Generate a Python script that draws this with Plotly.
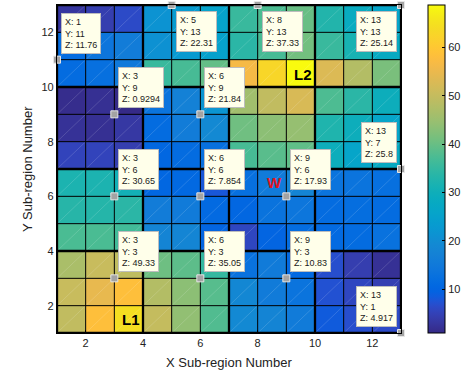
import numpy as np
import plotly.graph_objects as go

# Sub-region grid: 13 x 13 nodes, 12 x 12 faces (face colour = value at its lower-left node)
x_nodes = list(range(1, 14))
y_nodes = list(range(1, 14))

# Face values, one row per Y sub-region (y = 1 ... 12), columns x = 1 ... 12
z_y01 = [49.5, 58.3, 64.5, 50.0, 44.0, 37.9, 19.3, 18.0, 15.5, 8.4, 6.8, 6.3]
z_y02 = [50.5, 54.6, 58.3, 47.8, 43.4, 38.5, 18.8, 15.5, 13.5, 7.2, 5.7, 4.6]
z_y03 = [46.8, 50.5, 49.33, 40.5, 39.0, 35.05, 13.0, 15.5, 10.83, 6.8, 4.3, 2.2]
z_y04 = [37.3, 37.3, 36.5, 18.0, 18.3, 10.0, 5.7, 10.0, 11.8, 11.0, 11.5, 13.0]
z_y05 = [33.5, 33.3, 34.0, 15.8, 15.5, 11.0, 10.4, 13.3, 14.0, 11.5, 12.0, 11.5]
z_y06 = [32.0, 32.0, 30.65, 10.5, 10.8, 7.854, 12.5, 15.5, 17.93, 13.5, 13.5, 12.5]
z_y07 = [5.3, 5.3, 4.3, 10.4, 11.5, 12.5, 37.0, 38.6, 39.3, 29.5, 26.0, 28.0]
z_y08 = [2.3, 2.0, 3.3, 11.5, 15.8, 19.3, 40.7, 43.4, 44.5, 32.5, 29.5, 26.0]
z_y09 = [1.5, 2.0, 0.9294, 13.5, 17.0, 21.84, 45.7, 49.5, 52.5, 37.6, 34.0, 29.5]
z_y10 = [11.5, 12.5, 15.0, 35.5, 37.0, 39.6, 56.6, 63.0, 68.8, 53.0, 47.8, 41.7]
z_y11 = [11.76, 13.8, 15.8, 21.0, 23.0, 25.0, 34.0, 37.0, 41.0, 35.5, 31.5, 28.0]
z_y12 = [3.0, 4.3, 6.3, 21.3, 23.3, 25.4, 35.5, 37.5, 40.0, 32.8, 28.5, 26.0]
z_faces = np.array([z_y01, z_y02, z_y03, z_y04, z_y05, z_y06,
                    z_y07, z_y08, z_y09, z_y10, z_y11, z_y12])

# Data tips (node coordinates); nodes on the top/right border carry their own values
tip_x = [1, 5, 8, 13, 3, 6, 13, 3, 6, 9, 3, 6, 9, 13]
tip_y = [11, 13, 13, 13, 9, 9, 7, 6, 6, 6, 3, 3, 3, 1]
border_node_z = {(5, 13): 22.31, (8, 13): 37.33, (13, 13): 25.14,
                 (13, 7): 25.8, (13, 1): 4.917}

# Region labels
label_text = ["L1", "L2", "W"]
label_x = [3.59, 9.58, 8.59]
label_y = [1.49, 10.45, 6.51]
label_color = ["black", "black", "#e3141c"]

colorbar_ticks = [10, 20, 30, 40, 50, 60]

# parula (64 entries)
parula = [
    (0.2081, 0.1663, 0.5292), (0.2116, 0.1898, 0.5777), (0.2123, 0.2138, 0.6270),
    (0.2081, 0.2386, 0.6771), (0.1959, 0.2645, 0.7279), (0.1707, 0.2919, 0.7792),
    (0.1253, 0.3242, 0.8303), (0.0591, 0.3598, 0.8683), (0.0117, 0.3875, 0.8820),
    (0.0060, 0.4086, 0.8828), (0.0165, 0.4266, 0.8786), (0.0329, 0.4430, 0.8720),
    (0.0498, 0.4586, 0.8641), (0.0629, 0.4737, 0.8554), (0.0723, 0.4887, 0.8467),
    (0.0779, 0.5040, 0.8384), (0.0793, 0.5200, 0.8312), (0.0749, 0.5375, 0.8263),
    (0.0641, 0.5570, 0.8240), (0.0488, 0.5772, 0.8228), (0.0343, 0.5966, 0.8199),
    (0.0265, 0.6137, 0.8135), (0.0239, 0.6287, 0.8038), (0.0231, 0.6418, 0.7913),
    (0.0228, 0.6535, 0.7768), (0.0267, 0.6642, 0.7607), (0.0384, 0.6743, 0.7436),
    (0.0590, 0.6838, 0.7254), (0.0843, 0.6928, 0.7062), (0.1133, 0.7015, 0.6859),
    (0.1453, 0.7098, 0.6646), (0.1801, 0.7177, 0.6424), (0.2178, 0.7250, 0.6193),
    (0.2586, 0.7317, 0.5954), (0.3022, 0.7376, 0.5712), (0.3482, 0.7424, 0.5473),
    (0.3953, 0.7459, 0.5244), (0.4420, 0.7481, 0.5033), (0.4871, 0.7491, 0.4840),
    (0.5300, 0.7491, 0.4661), (0.5709, 0.7485, 0.4494), (0.6099, 0.7473, 0.4337),
    (0.6473, 0.7456, 0.4188), (0.6834, 0.7435, 0.4044), (0.7184, 0.7411, 0.3905),
    (0.7525, 0.7384, 0.3768), (0.7858, 0.7356, 0.3633), (0.8185, 0.7327, 0.3498),
    (0.8507, 0.7299, 0.3360), (0.8824, 0.7274, 0.3217), (0.9139, 0.7258, 0.3063),
    (0.9450, 0.7261, 0.2886), (0.9739, 0.7314, 0.2666), (0.9938, 0.7455, 0.2403),
    (0.9990, 0.7653, 0.2164), (0.9955, 0.7861, 0.1967), (0.9880, 0.8066, 0.1794),
    (0.9789, 0.8271, 0.1633), (0.9697, 0.8481, 0.1475), (0.9626, 0.8705, 0.1309),
    (0.9589, 0.8949, 0.1132), (0.9598, 0.9218, 0.0948), (0.9661, 0.9514, 0.0755),
    (0.9763, 0.9831, 0.0538),
]
colorscale = [[i / (len(parula) - 1),
               "rgb(%d,%d,%d)" % tuple(round(255 * c) for c in rgb)]
              for i, rgb in enumerate(parula)]

FONT = "Liberation Sans, Arial, Helvetica, sans-serif"
W, H = 474, 375
ML, MR, MT, MB = 57, 73, 5, 42
plot_w = W - ML - MR

fig = go.Figure()

fig.add_trace(go.Heatmap(
    z=z_faces, x=x_nodes, y=y_nodes,
    colorscale=colorscale,
    zmin=float(z_faces.min()), zmax=float(z_faces.max()),
    hoverinfo="skip",
    colorbar=dict(
        thickness=17, len=1.0, lenmode="fraction", y=0.5, yanchor="middle",
        x=(428 - ML) / plot_w, xanchor="left", xpad=0, ypad=0,
        outlinecolor="black", outlinewidth=1,
        tickvals=colorbar_ticks, ticks="inside", ticklen=3,
        tickcolor="black", tickfont=dict(family=FONT, size=11, color="#222"),
    ),
))

# faint triangulation seams along each face diagonal
sx, sy = [], []
for c in range(-11, 12):
    x0, x1 = max(1, 1 - c), min(13, 13 - c)
    sx += [x0, x1, None]
    sy += [x0 + c, x1 + c, None]
fig.add_trace(go.Scatter(x=sx, y=sy, mode="lines", hoverinfo="skip",
                         line=dict(color="rgba(255,255,255,0.3)", width=0.5),
                         showlegend=False))

# mesh edges: thin at every node, thick at the 3x3 sub-region borders
for thick in (False, True):
    gx, gy = [], []
    for v in x_nodes:
        if ((v - 1) % 3 == 0) == thick:
            gx += [v, v, None]
            gy += [y_nodes[0], y_nodes[-1], None]
    for v in y_nodes:
        if ((v - 1) % 3 == 0) == thick:
            gx += [x_nodes[0], x_nodes[-1], None]
            gy += [v, v, None]
    fig.add_trace(go.Scatter(x=gx, y=gy, mode="lines", hoverinfo="skip",
                             line=dict(color="black", width=2.3 if thick else 1.0),
                             showlegend=False))

# data-tip markers
fig.add_trace(go.Scatter(
    x=tip_x, y=tip_y, mode="markers", hoverinfo="skip", cliponaxis=False,
    marker=dict(symbol="square", size=7, color="#a3a3a3",
                line=dict(color="#e6e6e6", width=1)),
    showlegend=False))

annotations = []
for tx, ty in zip(tip_x, tip_y):
    if tx < 13 and ty < 13:
        tz = z_faces[ty - 1][tx - 1]
    else:
        tz = border_node_z[(tx, ty)]
    below = ty == y_nodes[-1]
    left = tx == x_nodes[-1]
    annotations.append(dict(
        x=tx, y=ty, xref="x", yref="y", showarrow=False,
        text="X: %d<br>Y: %d<br>Z: %s" % (tx, ty, "%.4g" % tz),
        align="left", font=dict(family=FONT, size=9, color="#1a1a1a"),
        bgcolor="#ffffea", bordercolor="#bdbdbd", borderwidth=1, borderpad=3,
        xanchor="right" if left else "left",
        yanchor="top" if below else "bottom",
        xshift=-4 if left else 4,
        yshift=-6 if below else 6,
    ))

for t, lx, ly, col in zip(label_text, label_x, label_y, label_color):
    annotations.append(dict(
        x=lx, y=ly, xref="x", yref="y", showarrow=False, text="<b>%s</b>" % t,
        font=dict(family=FONT, size=15, color=col)))

annotations.append(dict(
    x=0.5, y=0, xref="paper", yref="paper", xanchor="center", yanchor="middle",
    yshift=-29.5, showarrow=False, text="X Sub-region Number",
    font=dict(family=FONT, size=13, color="#222")))
annotations.append(dict(
    x=0, y=0.5, xref="paper", yref="paper", xanchor="center", yanchor="middle",
    xshift=-30, showarrow=False, text="Y Sub-region Number", textangle=-90,
    font=dict(family=FONT, size=13, color="#222")))

axis_common = dict(
    showgrid=False, zeroline=False, showline=True, mirror=True,
    linecolor="black", linewidth=1.2,
    ticks="inside", ticklen=3, tickcolor="black",
    tickfont=dict(family=FONT, size=11, color="#222"),
)
fig.update_layout(
    width=W, height=H,
    margin=dict(l=ML, r=MR, t=MT, b=MB),
    paper_bgcolor="white", plot_bgcolor="white",
    xaxis=dict(range=[1, 13], tickvals=[2, 4, 6, 8, 10, 12], **axis_common),
    yaxis=dict(range=[1, 13], tickvals=[2, 4, 6, 8, 10, 12], **axis_common),
    annotations=annotations,
    showlegend=False,
)

fig.write_html("out.html")
